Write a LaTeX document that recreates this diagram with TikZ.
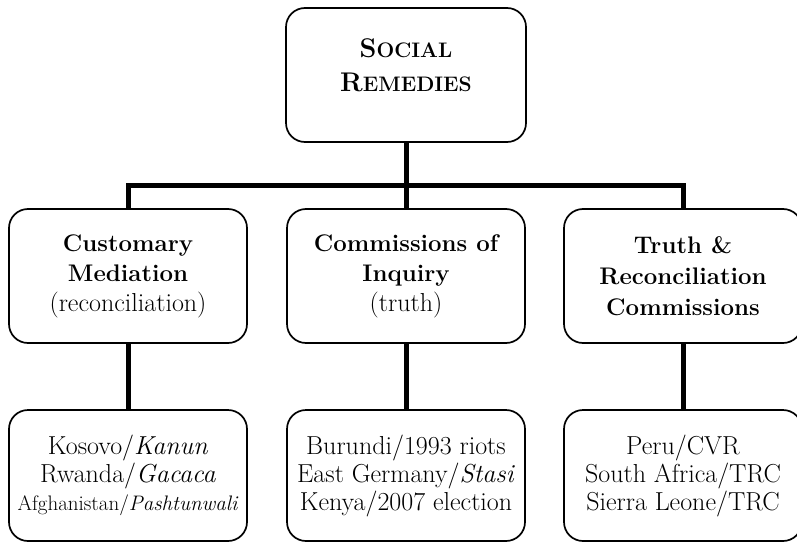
\documentclass[tikz,border=0pt]{standalone}
\tikzset{
  box/.style={draw=black, line width=1.7pt, rounded corners=19pt, fill=white,
    minimum width=238pt, align=center, inner sep=0pt},
  midbox/.style={box, minimum height=134pt},
  lowbox/.style={box, minimum height=131pt, font=\fontsize{26}{28}\selectfont},
  head/.style={font=\fontsize{24}{30}\selectfont\bfseries},
  conn/.style={line width=5pt, line join=miter, line cap=butt},
}
\newcommand\mysc[2]{{\fontsize{27}{34}\selectfont #1}{\fontsize{21}{34}\selectfont #2}}
\newcommand\paren[1]{{\normalfont\fontsize{26}{30}\selectfont #1}}
\begin{document}
\begin{tikzpicture}[x=1pt,y=-1pt]
\clip (0,0) rectangle (797,543);
\node[box, minimum width=240pt, minimum height=134pt, text depth=20pt,
      font=\fontsize{27}{34}\selectfont\bfseries] (top) at (406,75)
  {\mysc{S}{OCIAL}\\\mysc{R}{EMEDIES}};
\node[midbox, head] (cm) at (128,276) {Customary\\Mediation\\\paren{(reconciliation)}};
\node[midbox, head] (ci) at (406,276) {Commissions of\\Inquiry\\\paren{(truth)}};
\node[midbox, head, font=\fontsize{24}{31}\selectfont\bfseries] (trc) at (683,276) {Truth \&\\Reconciliation\\Commissions};
\node[lowbox] (b1) at (128,475.5) {Kosovo/\textit{Kanun}\\Rwanda/\textit{Gacaca}\\{\fontsize{21}{28}\selectfont Afghanistan/\textit{Pashtunwali}}};
\node[lowbox] (b2) at (406,475.5) {Burundi/1993 riots\\East Germany/\textit{Stasi}\\Kenya/2007 election};
\node[lowbox] (b3) at (683,475.5) {Peru/CVR\\South Africa/TRC\\Sierra Leone/TRC};
\coordinate (bar) at (406,185);
\draw[conn] (top.south) -- (ci.north);
\draw[conn] (cm.north) |- (bar) -| (trc.north);
\draw[conn] (cm.south) -- (b1.north);
\draw[conn] (ci.south) -- (b2.north);
\draw[conn] (trc.south) -- (b3.north);
\end{tikzpicture}
\end{document}
